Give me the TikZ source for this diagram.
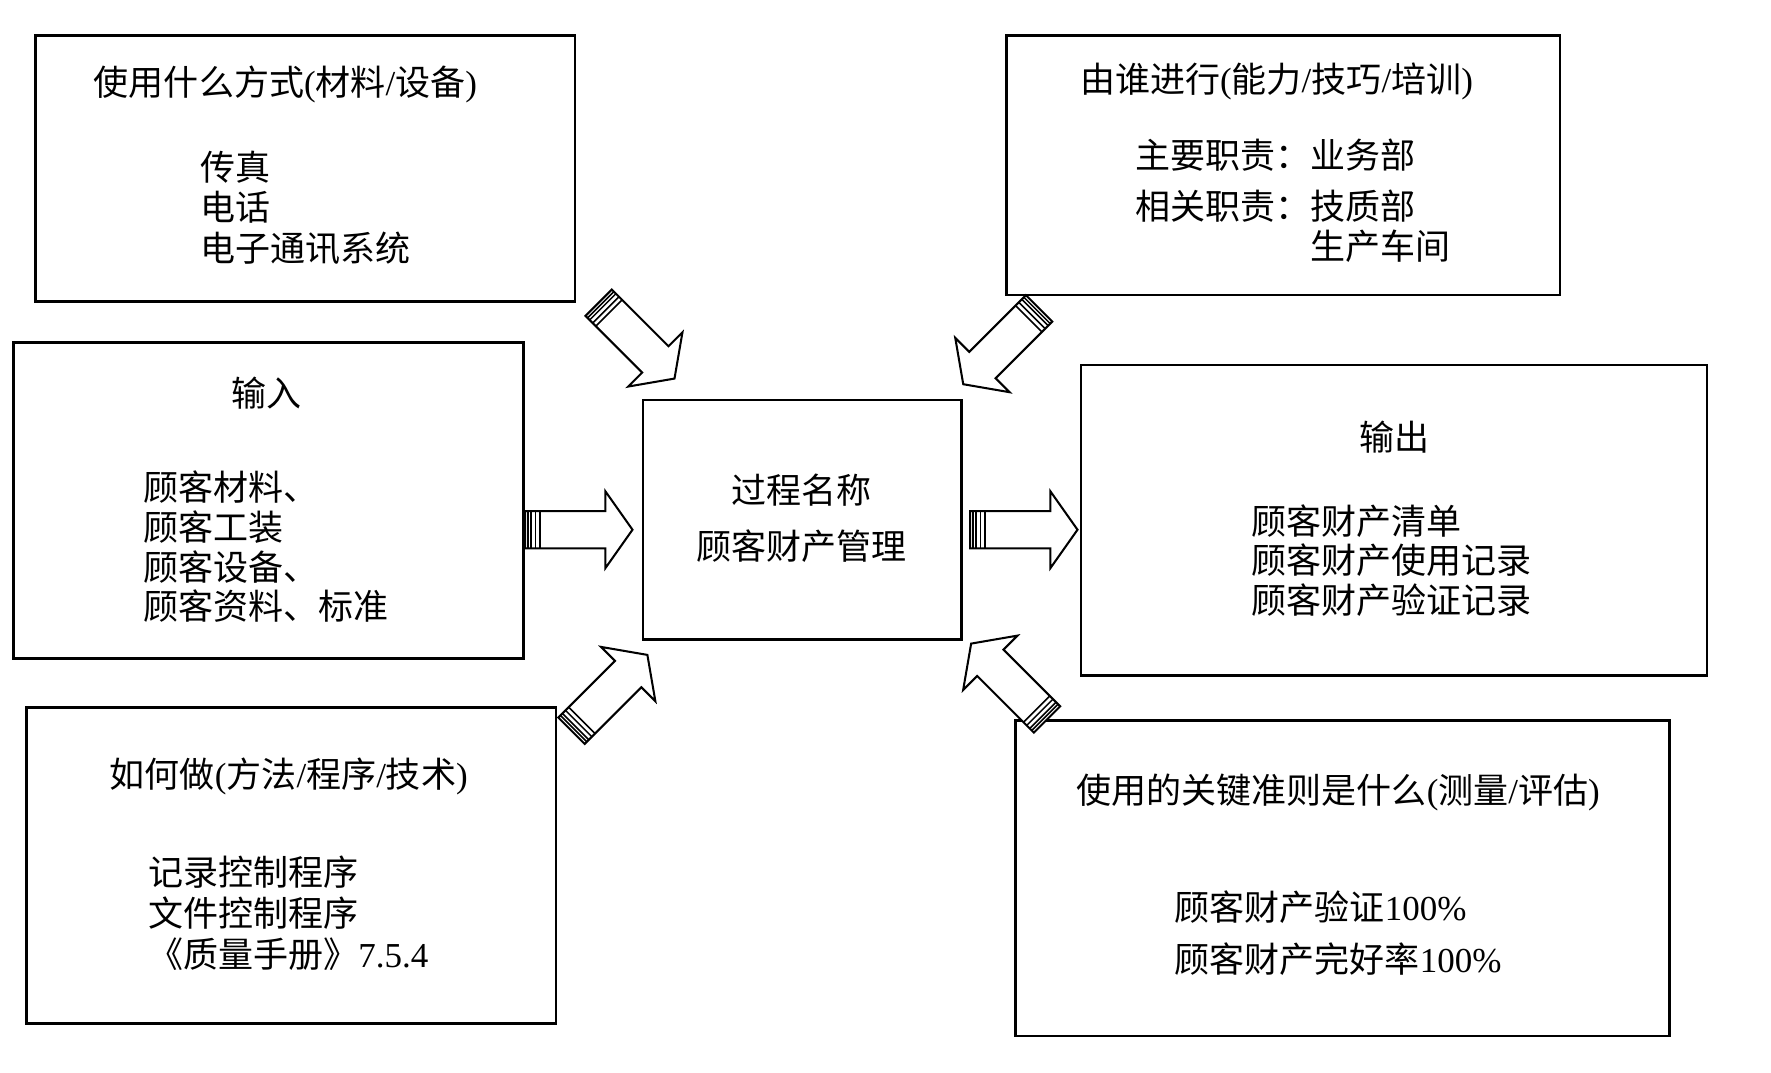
\documentclass[tikz,border=0pt]{standalone}
\usepackage{fontspec}
\setmainfont{Noto Sans CJK SC}
\newfontfamily\lat{Liberation Serif}
\newcommand\ltn[1]{{\lat #1}}
\newcommand\blockarr[3]{%
  \begin{scope}[shift={(#1,#2)},rotate=#3]
    \draw[arr] (0,-16.5) -- (71,-16.5) -- (71,-34) -- (95,0) -- (71,34) -- (71,16.5) -- (0,16.5) -- cycle;
    \foreach \s in {2.6,5.2,9,13} \draw[line width=1.4pt] (\s,-16.5) -- (\s,16.5);
  \end{scope}}
\begin{document}
\begin{tikzpicture}[x=1pt,y=-1pt,
  box/.style={draw,line width=2.4pt,inner sep=0pt,anchor=north west},
  txt/.style={inner sep=0pt,anchor=west,align=left,font=\fontsize{31}{36}\selectfont},
  arr/.style={draw,line width=1.8pt,fill=white,line join=miter}]
\useasboundingbox (0,0) rectangle (1568,950);
\fill[white] (0,0) rectangle (1568,950);
% boxes
\node[box,minimum width=478pt,minimum height=236pt] (tl) at (30,30) {};
\node[box,minimum width=490pt,minimum height=230pt] (tr) at (890,30) {};
\node[box,minimum width=451pt,minimum height=280pt] (in) at (11,302) {};
\node[box,minimum width=282pt,minimum height=212pt] (ce) at (568,353) {};
\node[box,minimum width=554pt,minimum height=275pt] (out) at (956,322) {};
\node[box,minimum width=469pt,minimum height=280pt] (bl) at (22,625) {};
\node[box,minimum width=579pt,minimum height=279pt] (br) at (898,637) {};
% texts
\node[txt] (tlh) at (83,75) {使用什么方式\ltn{(}材料\ltn{/}设备\ltn{)}};
\node[txt] (tlb) at (177,184) {传真\\电话\\电子通讯系统};
\node[txt] (trh) at (956,72) {由谁进行\ltn{(}能力\ltn{/}技巧\ltn{/}培训\ltn{)}};
\node[txt] (trb1) at (1005,137) {主要职责：业务部};
\node[txt,font=\fontsize{31}{35}\selectfont] (trb2) at (1005,200.5) {相关职责：技质部\\\hphantom{相关职责：}生产车间};
\node[txt,anchor=center] (inh) at (236,348) {输入};
\node[txt,font=\fontsize{31}{35.3}\selectfont] (inb) at (127,484) {顾客材料、\\顾客工装\\顾客设备、\\顾客资料、标准};
\node[txt,anchor=center,align=center,font=\fontsize{31}{50}\selectfont] (ceb) at (710,459) {过程名称\\顾客财产管理};
\node[txt,anchor=center] (outh) at (1235,387) {输出};
\node[txt,font=\fontsize{31}{35}\selectfont] (outb) at (1108,496) {顾客财产清单\\顾客财产使用记录\\顾客财产验证记录};
\node[txt] (blh) at (97,687) {如何做\ltn{(}方法\ltn{/}程序\ltn{/}技术\ltn{)}};
\node[txt,font=\fontsize{31}{36.5}\selectfont] (blb) at (131,808.5) {记录控制程序\\文件控制程序\\《质量手册》\ltn{7.5.4}};
\node[txt] (brh) at (953,702) {使用的关键准则是什么\ltn{(}测量\ltn{/}评估\ltn{)}};
\node[txt,font=\fontsize{31}{46}\selectfont] (brb) at (1040,826) {顾客财产验证\ltn{100\%}\\顾客财产完好率\ltn{100\%}};
% block arrows
\blockarr{530}{268}{-45}
\blockarr{920}{273}{-135}
\blockarr{465}{469}{0}
\blockarr{859}{469}{0}
\blockarr{506}{647}{45}
\blockarr{927}{637}{135}
\end{tikzpicture}
\end{document}
